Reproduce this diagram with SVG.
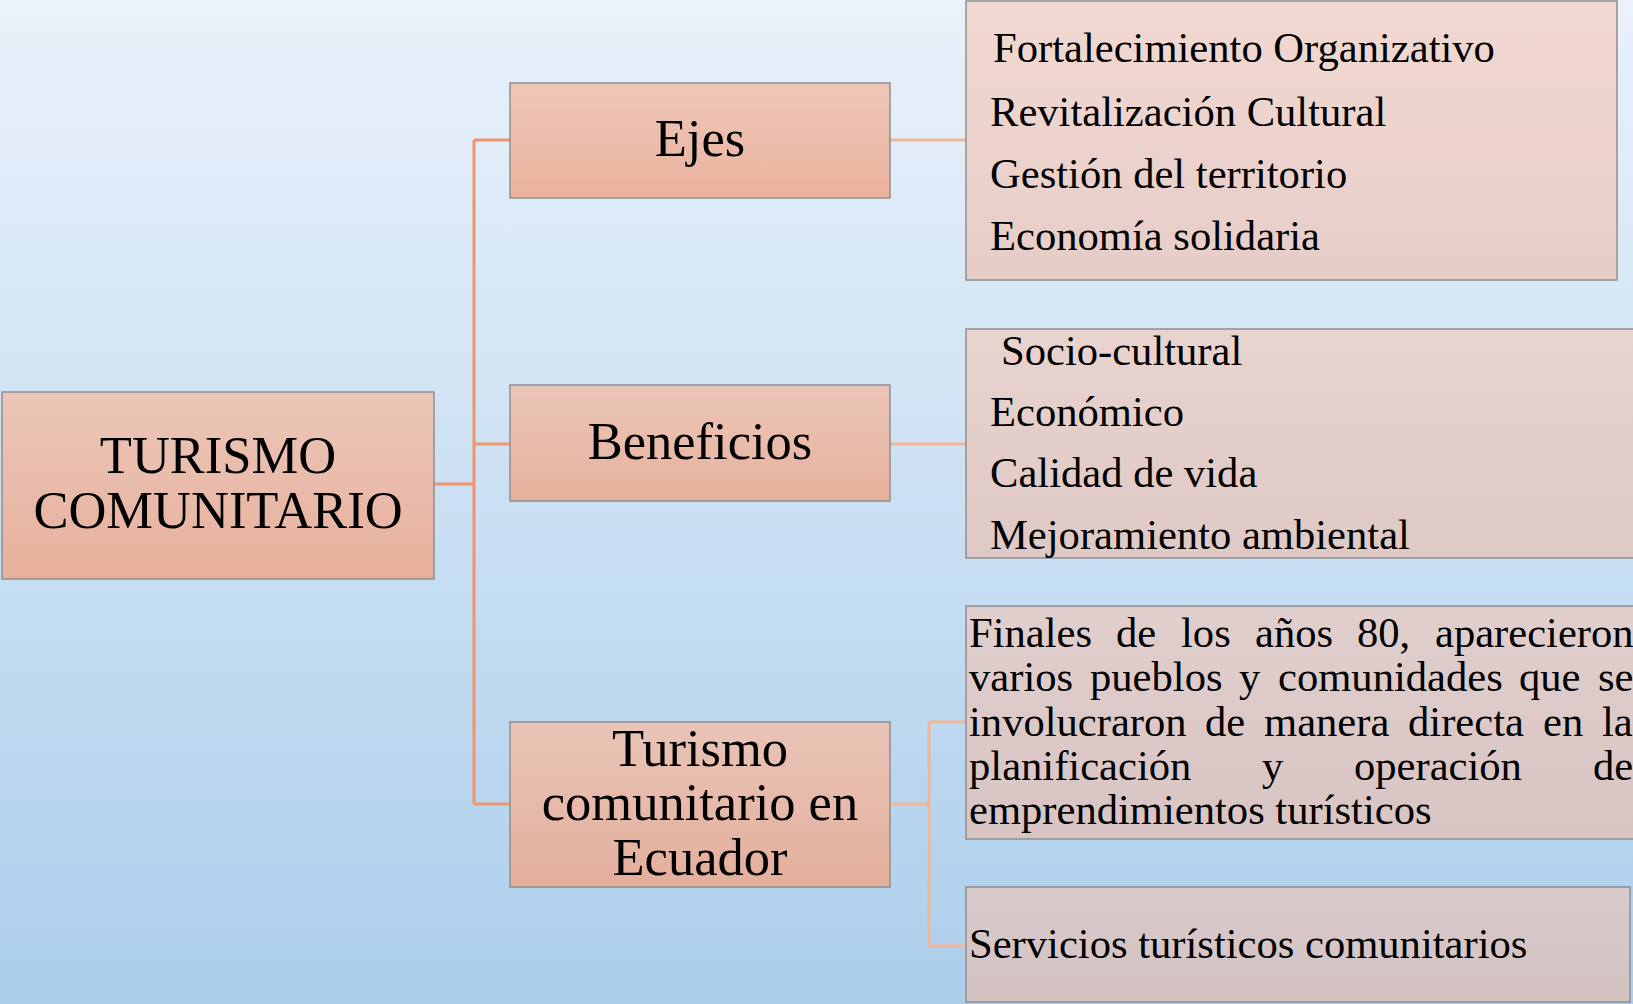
<svg xmlns="http://www.w3.org/2000/svg" width="1633" height="1004" viewBox="0 0 1633 1004">
<defs>
<linearGradient id="bg" x1="0" y1="0" x2="0" y2="1">
<stop offset="0" stop-color="#EAF2FB"/>
<stop offset="1" stop-color="#ACCEEB"/>
</linearGradient>
<linearGradient id="node" x1="0" y1="0" x2="0" y2="1">
<stop offset="0" stop-color="#F0C1AE"/>
<stop offset="1" stop-color="#ECA98E"/>
</linearGradient>
<linearGradient id="list" x1="0" y1="0" x2="0" y2="1">
<stop offset="0" stop-color="#F7C4B0"/>
<stop offset="1" stop-color="#F2B8A2"/>
</linearGradient>
</defs>
<style>
.node{fill:url(#node);fill-opacity:0.86;stroke:#8E8E8E;stroke-width:1.5}
.list{fill:url(#list);fill-opacity:0.56;stroke:#8E8E8E;stroke-width:1.5}
.t{font-family:"Liberation Serif","Times New Roman",serif;fill:#000}
.nt{font-size:52.5px;text-anchor:middle}
.lt{font-size:42.6px}
.trunk{stroke:#F0956A;stroke-width:3;fill:none}
.br{stroke:#F4B496;stroke-width:3;fill:none}
</style>
<rect x="0" y="0" width="1633" height="1004" fill="url(#bg)"/>

<g id="connectors">
<path class="trunk" d="M434 484 H474 M474 140 V804 M474 140 H510 M474 444 H510 M474 804 H510"/>
<path class="br" d="M890 140 H966 M890 444 H966 M890 804 H929 M929 722 V946 M929 722 H966 M929 946 H966"/>
</g>

<g id="root">
<rect class="node" x="2" y="392" width="432" height="187"/>
<text class="t nt" x="218" y="473">TURISMO</text>
<text class="t nt" x="218" y="528">COMUNITARIO</text>
</g>

<g id="ejes">
<rect class="node" x="510" y="83" width="380" height="115"/>
<text class="t nt" x="700" y="156">Ejes</text>
</g>

<g id="beneficios">
<rect class="node" x="510" y="385" width="380" height="116"/>
<text class="t nt" x="700" y="459">Beneficios</text>
</g>

<g id="ecuador">
<rect class="node" x="510" y="722" width="380" height="165"/>
<text class="t nt" x="700" y="766">Turismo</text>
<text class="t nt" x="700" y="820">comunitario en</text>
<text class="t nt" x="700" y="875">Ecuador</text>
</g>

<g id="list-ejes">
<rect class="list" x="966" y="1" width="651" height="279"/>
<text class="t lt" x="993" y="62">Fortalecimiento Organizativo</text>
<text class="t lt" x="990" y="126">Revitalización Cultural</text>
<text class="t lt" x="990" y="188">Gestión del territorio</text>
<text class="t lt" x="990" y="250">Economía solidaria</text>
</g>

<g id="list-beneficios">
<rect class="list" x="966" y="329" width="670" height="229"/>
<text class="t lt" x="1001" y="365">Socio-cultural</text>
<text class="t lt" x="990" y="426">Económico</text>
<text class="t lt" x="990" y="487">Calidad de vida</text>
<text class="t lt" x="990" y="549">Mejoramiento ambiental</text>
</g>

<g id="list-finales">
<rect class="list" x="966" y="606" width="670" height="233"/>
<text class="t lt" y="647"><tspan x="969">Finales</tspan><tspan x="1116">de</tspan><tspan x="1181">los</tspan><tspan x="1255">años</tspan><tspan x="1357">80,</tspan><tspan x="1435">aparecieron</tspan></text>
<text class="t lt" y="691"><tspan x="969">varios</tspan><tspan x="1090">pueblos</tspan><tspan x="1239">y</tspan><tspan x="1278">comunidades</tspan><tspan x="1519">que</tspan><tspan x="1598">se</tspan></text>
<text class="t lt" y="736"><tspan x="969">involucraron</tspan><tspan x="1205">de</tspan><tspan x="1264">manera</tspan><tspan x="1408">directa</tspan><tspan x="1543">en</tspan><tspan x="1602">la</tspan></text>
<text class="t lt" y="780"><tspan x="969">planificación</tspan><tspan x="1262">y</tspan><tspan x="1354">operación</tspan><tspan x="1593">de</tspan></text>
<text class="t lt" x="969" y="824">emprendimientos turísticos</text>
</g>

<g id="list-servicios">
<rect class="list" x="966" y="887" width="664" height="115"/>
<text class="t lt" x="969" y="958">Servicios turísticos comunitarios</text>
</g>
</svg>
